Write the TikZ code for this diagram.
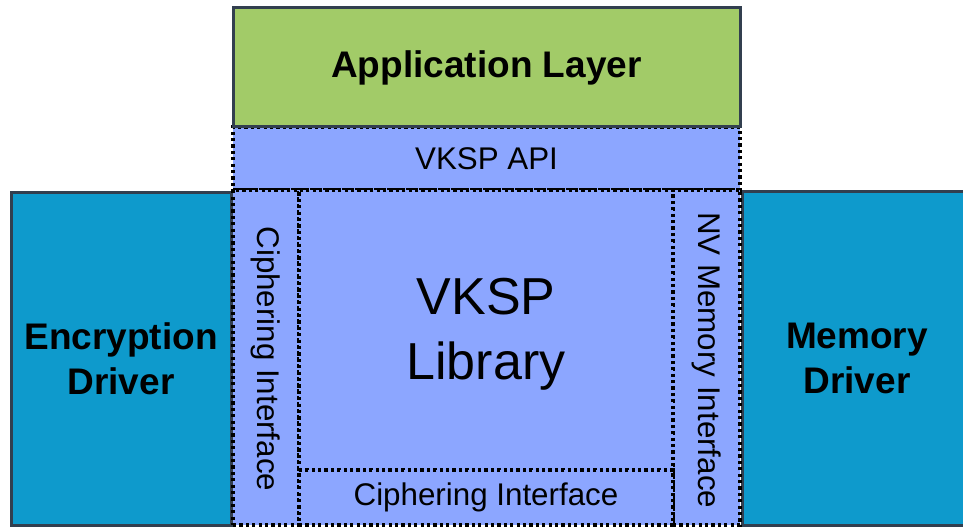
\documentclass[tikz,border=0pt]{standalone}
\usepackage{fontspec}
\setmainfont{Liberation Sans}

\definecolor{appgreen}{HTML}{A2CB68}
\definecolor{vkspblue}{HTML}{8CA6FF}
\definecolor{drvblue}{HTML}{0E9ACC}
\definecolor{edgegray}{HTML}{323F4F}

\newcommand{\pxu}{0.75pt}
\newcommand{\lblfont}{\fontsize{23.5}{28}\selectfont}
\newcommand{\drvfont}{\fontsize{27.75}{33.75}\selectfont\bfseries}
\newcommand{\libfont}{\fontsize{39}{48.75}\selectfont}

\tikzset{
  block/.style={rectangle, inner sep=0pt, outer sep=0pt, anchor=north west, align=center},
  solidbox/.style={block, draw=edgegray, line width=2.25pt},
  dotbox/.style={block, draw=black, fill=vkspblue, line width=3pt,
                 dash pattern=on 2.4pt off 2.4pt},
  vlabel/.style={rotate=-90, inner sep=0pt, font=\lblfont}
}

\begin{document}
\begin{tikzpicture}[x=0.75pt,y=-0.75pt]
  \useasboundingbox (0,0) rectangle (963,527);
  \clip (0,0) rectangle (963,527);

  % Drivers
  \node[solidbox, fill=drvblue, minimum width=220*\pxu, minimum height=332*\pxu,
        font=\drvfont] (enc) at (11,193) {Encryption\\Driver};
  \node[solidbox, fill=drvblue, minimum width=230*\pxu, minimum height=333*\pxu,
        font=\drvfont] (mem) at (742,192) {Memory\\Driver};

  % VKSP library and its interfaces
  \node[dotbox, minimum width=507*\pxu, minimum height=63*\pxu,
        font=\lblfont] (api) at (233,127) {VKSP API};
  \node[dotbox, minimum width=66*\pxu, minimum height=335*\pxu] (cipl) at (233,190) {};
  \node[dotbox, minimum width=67*\pxu, minimum height=335*\pxu] (nvm) at (673,190) {};
  \node[dotbox, minimum width=374*\pxu, minimum height=280*\pxu] (core) at (299,190) {};
  \node[dotbox, minimum width=374*\pxu, minimum height=55*\pxu,
        font=\lblfont] (cipb) at (299,470) {Ciphering Interface};

  \node[align=center, inner sep=0pt, font=\libfont] (coretxt)
        at ([yshift=-3pt]core.center) {VKSP\\Library};
  \node[vlabel] (cipltxt) at ([yshift=-1pt]cipl.center) {Ciphering Interface};
  \node[vlabel] (nvmtxt) at ([yshift=-2pt]nvm.center) {NV Memory Interface};

  % Application
  \node[solidbox, fill=appgreen, minimum width=507*\pxu, minimum height=119*\pxu,
        font=\drvfont] (app) at (233,8) {\raisebox{-3pt}{Application Layer}};
\end{tikzpicture}
\end{document}
